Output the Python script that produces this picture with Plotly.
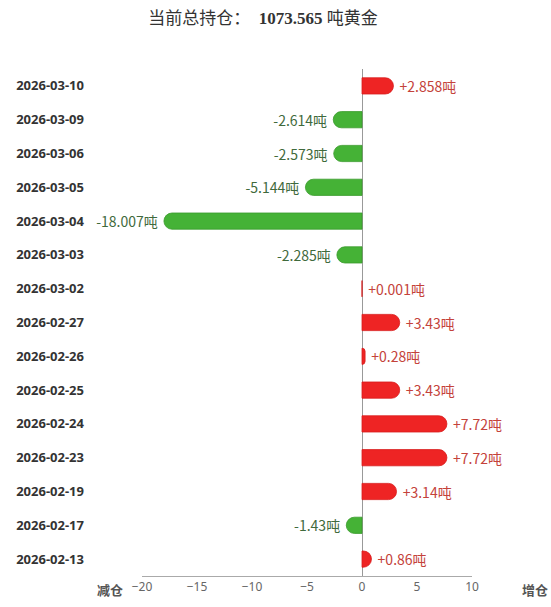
import plotly.graph_objects as go

dates = ["2026-03-10", "2026-03-09", "2026-03-06", "2026-03-05", "2026-03-04",
         "2026-03-03", "2026-03-02", "2026-02-27", "2026-02-26", "2026-02-25",
         "2026-02-24", "2026-02-23", "2026-02-19", "2026-02-17", "2026-02-13"]
changes = [2.858, -2.614, -2.573, -5.144, -18.007,
           -2.285, 0.001, 3.43, 0.28, 3.43,
           7.72, 7.72, 3.14, -1.43, 0.86]
total = "1073.565"

RED = "#ee2424"
GREEN = "#45b236"
RED_TXT = "#c4423a"
GREEN_TXT = "#3f6a3c"

bar_colors = [RED if v >= 0 else GREEN for v in changes]
line_colors = ["#d81c1c" if v >= 0 else "#3a9a2c" for v in changes]
txt_colors = [RED_TXT if v >= 0 else GREEN_TXT for v in changes]
labels = [(f" +{v:g}吨" if v >= 0 else f"{v:g}吨 ") for v in changes]

# plot area in pixels
L, R, T, B = 142, 79, 69, 29
W, H = 551, 607

fig = go.Figure(go.Bar(
    y=dates,
    x=changes,
    orientation="h",
    marker=dict(color=bar_colors, line=dict(color=line_colors, width=0.8),
                cornerradius="50%"),
    text=labels,
    textposition="outside",
    constraintext="none",
    textfont=dict(color=txt_colors, size=14, family="Noto Sans CJK SC"),
    cliponaxis=False,
    hoverinfo="skip",
))


def px_to_paper(x, y):
    return (x - L) / (W - L - R), (H - B - y) / (H - T - B)


ax1, ay1 = px_to_paper(110, 592)
ax2, ay2 = px_to_paper(535, 592)

fig.update_layout(
    width=W,
    height=H,
    margin=dict(l=L, r=R, t=T, b=B),
    paper_bgcolor="white",
    plot_bgcolor="white",
    showlegend=False,
    bargap=0.52,
    title=dict(
        text=f"当前总持仓：  <b>{total}</b> 吨黄金",
        x=263 / W, xref="container", xanchor="center",
        y=1 - 18 / H, yref="container", yanchor="middle",
        font=dict(size=17, color="#333", family="Liberation Serif, Noto Sans CJK SC"),
    ),
    xaxis=dict(
        range=[-20, 10],
        tickvals=[-20, -15, -10, -5, 0, 5, 10],
        showgrid=False,
        zeroline=True,
        zerolinecolor="#999",
        zerolinewidth=1,
        showline=True,
        linecolor="#aaa",
        linewidth=1,
        ticks="",
        tickfont=dict(size=12, color="#666", family="Noto Sans"),
    ),
    yaxis=dict(
        type="category",
        categoryorder="array",
        categoryarray=dates,
        autorange="reversed",
        showgrid=False,
        showline=False,
        ticks="",
        ticklabelstandoff=57,
        tickfont=dict(size=13, color="#333", family="Noto Sans", weight="bold"),
    ),
    annotations=[
        dict(text="<b>减仓</b>", x=ax1, y=ay1, xref="paper", yref="paper",
             xanchor="center", yanchor="middle", showarrow=False,
             font=dict(size=13, color="#555", family="Noto Sans CJK SC")),
        dict(text="<b>增仓</b>", x=ax2, y=ay2, xref="paper", yref="paper",
             xanchor="center", yanchor="middle", showarrow=False,
             font=dict(size=13, color="#555", family="Noto Sans CJK SC")),
    ],
)

# drop the browser's default body margin so the figure sits at the window corner
fig.write_html("out.html", config={"displayModeBar": False},
               post_script="document.body.style.margin='0';")
